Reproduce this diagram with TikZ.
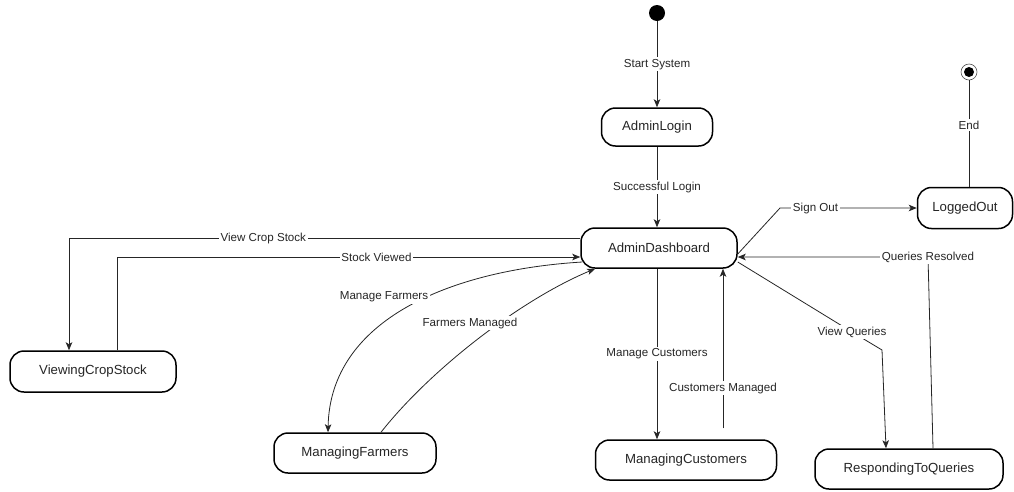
\documentclass[tikz,border=0pt]{standalone}
\usepackage{fontspec}
\setmainfont{Liberation Sans}
\usetikzlibrary{arrows.meta}
\begin{document}
\begin{tikzpicture}[x=1pt,y=-1pt,
  state/.style={draw=black, line width=1.5pt, rounded corners=14pt, fill=white,
    inner sep=0pt, font=\fontsize{13.2}{15}\selectfont, text=black!85},
  lbl/.style={fill=white, inner sep=1.5pt, font=\fontsize{11.6}{13}\selectfont, text=black!85},
  edge/.style={draw=black!85, line width=0.8pt, -{Stealth[length=8pt,width=6.5pt,inset=2pt]}},
  plain/.style={draw=black!85, line width=0.8pt}]
\useasboundingbox (0,0) rectangle (1014,491);
% states
\node[circle, fill=black, minimum size=16pt, inner sep=0pt] (start) at (657,13) {};
\node[state, minimum width=111pt, minimum height=38pt] (login) at (657,127) {AdminLogin};
\node[state, minimum width=156pt, minimum height=40pt] (dash) at (659,248) {AdminDashboard};
\node[state, minimum width=95pt, minimum height=41pt] (out) at (965,208) {LoggedOut};
\node[circle, draw=black!70, line width=0.6pt, minimum size=16pt, inner sep=0pt] (end) at (969,72) {};
\node[circle, fill=black, minimum size=10pt, inner sep=0pt] (endin) at (end) {};
\node[state, minimum width=166pt, minimum height=41pt] (vcs) at (93,371.5) {ViewingCropStock};
\node[state, minimum width=162pt, minimum height=40pt] (mf) at (355,453) {ManagingFarmers};
\node[state, minimum width=181pt, minimum height=40pt] (mc) at (686,460) {ManagingCustomers};
\node[state, minimum width=188pt, minimum height=40pt] (rtq) at (909,469) {RespondingToQueries};
% transitions
\draw[edge] (start) -- node[lbl]{Start System} (login);
\draw[edge] (login) -- node[lbl]{Successful Login} ([xshift=-2pt]dash.north);
\draw[edge] ([yshift=10pt]dash.west) -| node[lbl,pos=0.31]{View Crop Stock} ([xshift=-24pt]vcs.north);
\draw[edge] ([xshift=24pt]vcs.north) |- node[lbl,pos=0.78]{Stock Viewed} ([yshift=-9pt]dash.west);
\draw[edge] ([yshift=-6pt]dash.east) -- (780,208) -- node[lbl,pos=0.26]{Sign Out} (out.west);
\draw[plain] ([xshift=4pt]out.north) -- node[lbl,pos=0.58]{End} (end);
\draw[edge] ([xshift=24pt]rtq.north) -- (928,257) node[lbl]{Queries Resolved} -- ([yshift=-9pt]dash.east);
\draw[edge] ([yshift=-14pt]dash.east) -- (852,332) node[lbl]{View Queries} -- (882,350) -- ([xshift=-23pt]rtq.north);
\draw[edge] ([xshift=-2pt]dash.south) -- node[lbl]{Manage Customers} ([xshift=-29pt]mc.north);
\draw[edge] ([xshift=37pt,yshift=11pt]mc.north) -- node[lbl,pos=0.25]{Customers Managed} ([xshift=64pt]dash.south);
\draw[edge] ([xshift=2pt,yshift=-14pt]dash.west) .. controls (450,270) and (330,320) .. ([xshift=-27pt]mf.north)
  node[lbl] at (384,297) {Manage Farmers};
\draw[edge] ([xshift=26pt]mf.north) .. controls (430,370) and (520,300) .. ([xshift=-64pt]dash.south)
  node[lbl] at (470,323) {Farmers Managed};
\end{tikzpicture}
\end{document}
